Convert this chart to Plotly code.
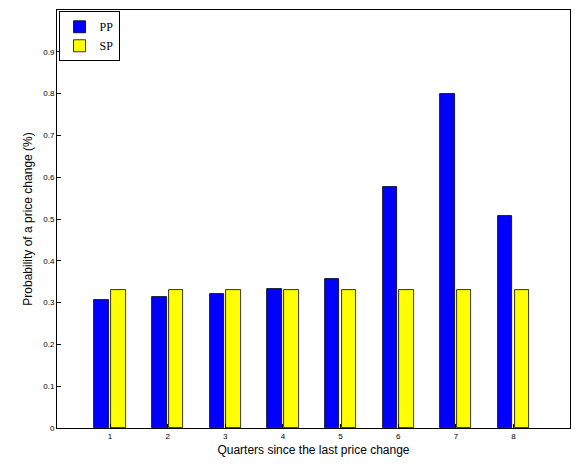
import plotly.graph_objects as go

quarters = [1, 2, 3, 4, 5, 6, 7, 8]
pp = [0.307, 0.314, 0.321, 0.332, 0.357, 0.576, 0.800, 0.508]
sp = [0.330, 0.330, 0.330, 0.330, 0.330, 0.330, 0.330, 0.330]

fig = go.Figure()
fig.add_bar(x=quarters, y=pp, name="PP", marker=dict(color="#0000ff", line=dict(color="black", width=0.8)),
            width=0.25, offset=-0.27)
fig.add_bar(x=quarters, y=sp, name="SP", marker=dict(color="#ffff00", line=dict(color="black", width=0.8)),
            width=0.25, offset=0.02)

ax = dict(showline=True, mirror=True, linecolor="black", linewidth=1, ticks="inside",
          ticklen=4, tickcolor="black", showgrid=False, zeroline=False,
          tickfont=dict(size=8, family="Liberation Sans", color="black"))
fig.update_layout(
    width=586, height=470, plot_bgcolor="white", paper_bgcolor="white",
    margin=dict(l=49, r=24, t=2, b=50),
    barmode="group", bargap=0,
    xaxis=dict(**ax, range=[0.08, 8.98], tickvals=quarters,
               title=dict(text="Quarters since the last price change", standoff=6,
                          font=dict(size=12, family="Liberation Sans", color="black"))),
    yaxis=dict(**ax, range=[0, 1], dtick=0.1, tickformat="~g",
               title=dict(text="Probability of a price change (%)", standoff=8,
                          font=dict(size=12, family="Liberation Sans", color="black"))),
    legend=dict(x=0.003, y=0.997, xanchor="left", yanchor="top", bordercolor="black", borderwidth=1,
                bgcolor="white", font=dict(family="Liberation Serif", size=12, color="black"),
                tracegroupgap=0, itemwidth=30),
    showlegend=True,
)
fig.write_html("out.html")
